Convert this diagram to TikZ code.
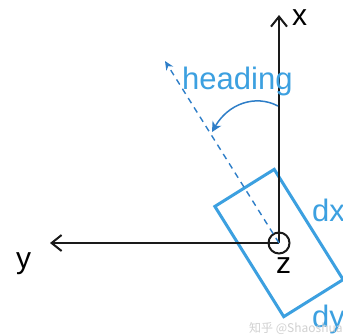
\documentclass[tikz,border=0pt]{standalone}
\usepackage{fontspec}
\setmainfont{Liberation Sans}
\newfontfamily\cjkwm{Noto Sans CJK SC}
\usetikzlibrary{arrows.meta}
\definecolor{boxblue}{HTML}{3CA0E0}
\definecolor{headblue}{HTML}{2E7EC8}
\definecolor{axisblack}{HTML}{1A1A1A}
\tikzset{
  axis/.style={draw=axisblack, line width=2pt, -{Straight Barb[length=10pt,width=16pt]}},
  axislabel/.style={text=black, font=\fontsize{30}{30}\selectfont, inner sep=0pt, anchor=base west},
  bluelabel/.style={text=boxblue, font=\fontsize{31}{31}\selectfont, inner sep=0pt, anchor=base west},
  carbox/.style={draw=boxblue, line width=3pt, minimum width=70pt, minimum height=130pt, inner sep=0pt, rotate=32},
  headline/.style={draw=headblue, line width=1.4pt, dash pattern=on 6pt off 5pt, -{Stealth[length=9pt,width=8pt]}},
  headarc/.style={draw=headblue, line width=1.5pt, -{Stealth[length=10pt,width=10pt,inset=3pt]}},
}
\begin{document}
\begin{tikzpicture}[x=1pt,y=-1pt]
\useasboundingbox (0,0) rectangle (343,335);
\clip (0,0) rectangle (343,335);
\fill[white] (0,0) rectangle (343,335);
\coordinate (O) at (279,243);
\coordinate (xend) at (279,15);
\coordinate (yend) at (50,243);
\coordinate (htip) at (165,61);
\coordinate (arcstart) at (278,106);
\coordinate (arcend) at (212,132);
% car box
\node[carbox] (car) at (O) {};
% axes
\draw[axis] (O) -- (xend);
\draw[axis] (O) -- (yend);
\node[draw=axisblack, line width=2pt, circle, minimum size=21pt, inner sep=0pt] (zc) at (O) {};
% heading
\draw[headline] (O) -- (htip);
\draw[headarc] (arcstart) .. controls (255,94) and (228,104) .. (arcend);
% labels
\node[axislabel] (xl) at (292,25) {x};
\node[axislabel] (yl) at (16,268) {y};
\node[axislabel] (zl) at (276,273) {z};
\node[bluelabel] (hl) at (182,89) {heading};
\node[bluelabel] (dxl) at (312,221) {dx};
\node[bluelabel] (dyl) at (312,327) {dy};
\node[text=black!18, font=\cjkwm\fontsize{12}{12}\selectfont, inner sep=0pt, anchor=west] (wm) at (249,328) {知乎 @ShaoshuaiShi};
\end{tikzpicture}
\end{document}
